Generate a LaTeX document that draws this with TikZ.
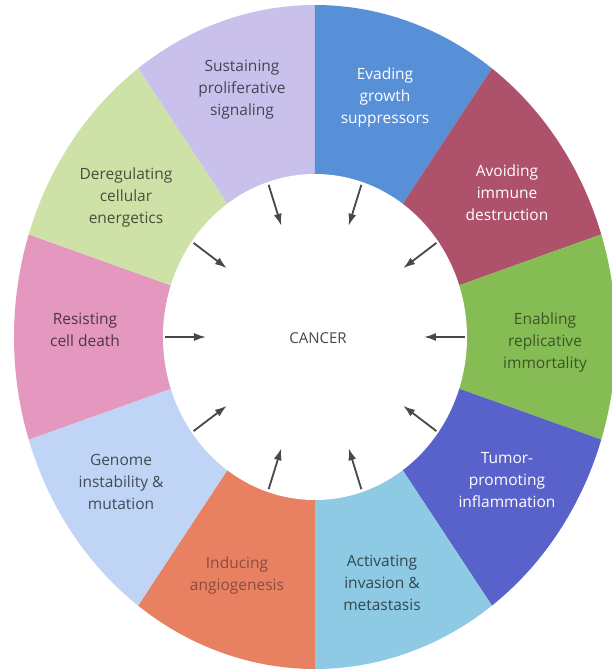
\documentclass[tikz,border=0pt]{standalone}
\usepackage{fontspec}
\setmainfont{Open Sans}
\usetikzlibrary{arrows.meta}

\definecolor{sustcol}{RGB}{201,193,236}
\definecolor{evadcol}{RGB}{88,144,216}
\definecolor{avoidcol}{RGB}{174,82,108}
\definecolor{enabcol}{RGB}{134,188,84}
\definecolor{tumorcol}{RGB}{88,98,202}
\definecolor{activcol}{RGB}{142,202,228}
\definecolor{inducol}{RGB}{232,128,98}
\definecolor{genomecol}{RGB}{192,212,246}
\definecolor{resistcol}{RGB}{228,152,192}
\definecolor{deregcol}{RGB}{206,226,168}
\definecolor{arrgray}{RGB}{72,72,72}

\begin{document}
\begin{tikzpicture}[x=1pt,y=1pt,
  seglab/.style={align=center,font=\fontsize{15.5}{22}\selectfont},
  arr/.style={-{Latex[length=12pt,width=8pt]},line width=1.8pt,draw=arrgray}]
  \useasboundingbox (-315,-333) rectangle (297,337);

  \foreach \a/\b/\c in {90/126/sustcol,54/90/evadcol,18/54/avoidcol,-18/18/enabcol,
    -54/-18/tumorcol,-90/-54/activcol,-126/-90/inducol,-162/-126/genomecol,
    162/198/resistcol,126/162/deregcol} {
    \fill[\c] (0,0) -- (\a:301 and 332)
      arc[start angle=\a, end angle=\b, x radius=301, y radius=332] -- cycle;
  }
  \fill[white] (0,0) ellipse[x radius=152, y radius=163];

  \node[font=\fontsize{15}{17}\selectfont,text=arrgray] (cancer) at (3,-1) {CANCER};

  \node[seglab,text=sustcol!35!black] (sust) at (-73,247) {Sustaining\\proliferative\\signaling};
  \node[seglab,text=white] (evad) at (70,240) {Evading\\growth\\suppressors};
  \node[seglab,text=white] (avoid) at (192,144) {Avoiding\\immune\\destruction};
  \node[seglab,text=enabcol!45!black] (enab) at (230,-5) {Enabling\\replicative\\immortality};
  \node[seglab,text=white] (tumor) at (192,-143) {Tumor-\\promoting\\inflammation};
  \node[seglab,text=activcol!35!black] (activ) at (67,-246) {Activating\\invasion \&\\metastasis};
  \node[seglab,text=inducol!60!black] (induc) at (-78,-238) {Inducing\\angiogenesis};
  \node[seglab,text=genomecol!35!black] (genome) at (-194,-145) {Genome\\instability \&\\mutation};
  \node[seglab,text=resistcol!35!black] (resist) at (-230,7) {Resisting\\cell death};
  \node[seglab,text=deregcol!35!black] (dereg) at (-189,140) {Deregulating\\cellular\\energetics};

  \foreach \m [count=\i] in {72,36,0,-36,-72,-108,-144,180,144,108} {
    \coordinate (t\i) at (\m:150 and 160);
    \coordinate (h\i) at (\m:109 and 117);
    \draw[arr] (t\i) -- (h\i);
  }
\end{tikzpicture}
\end{document}
